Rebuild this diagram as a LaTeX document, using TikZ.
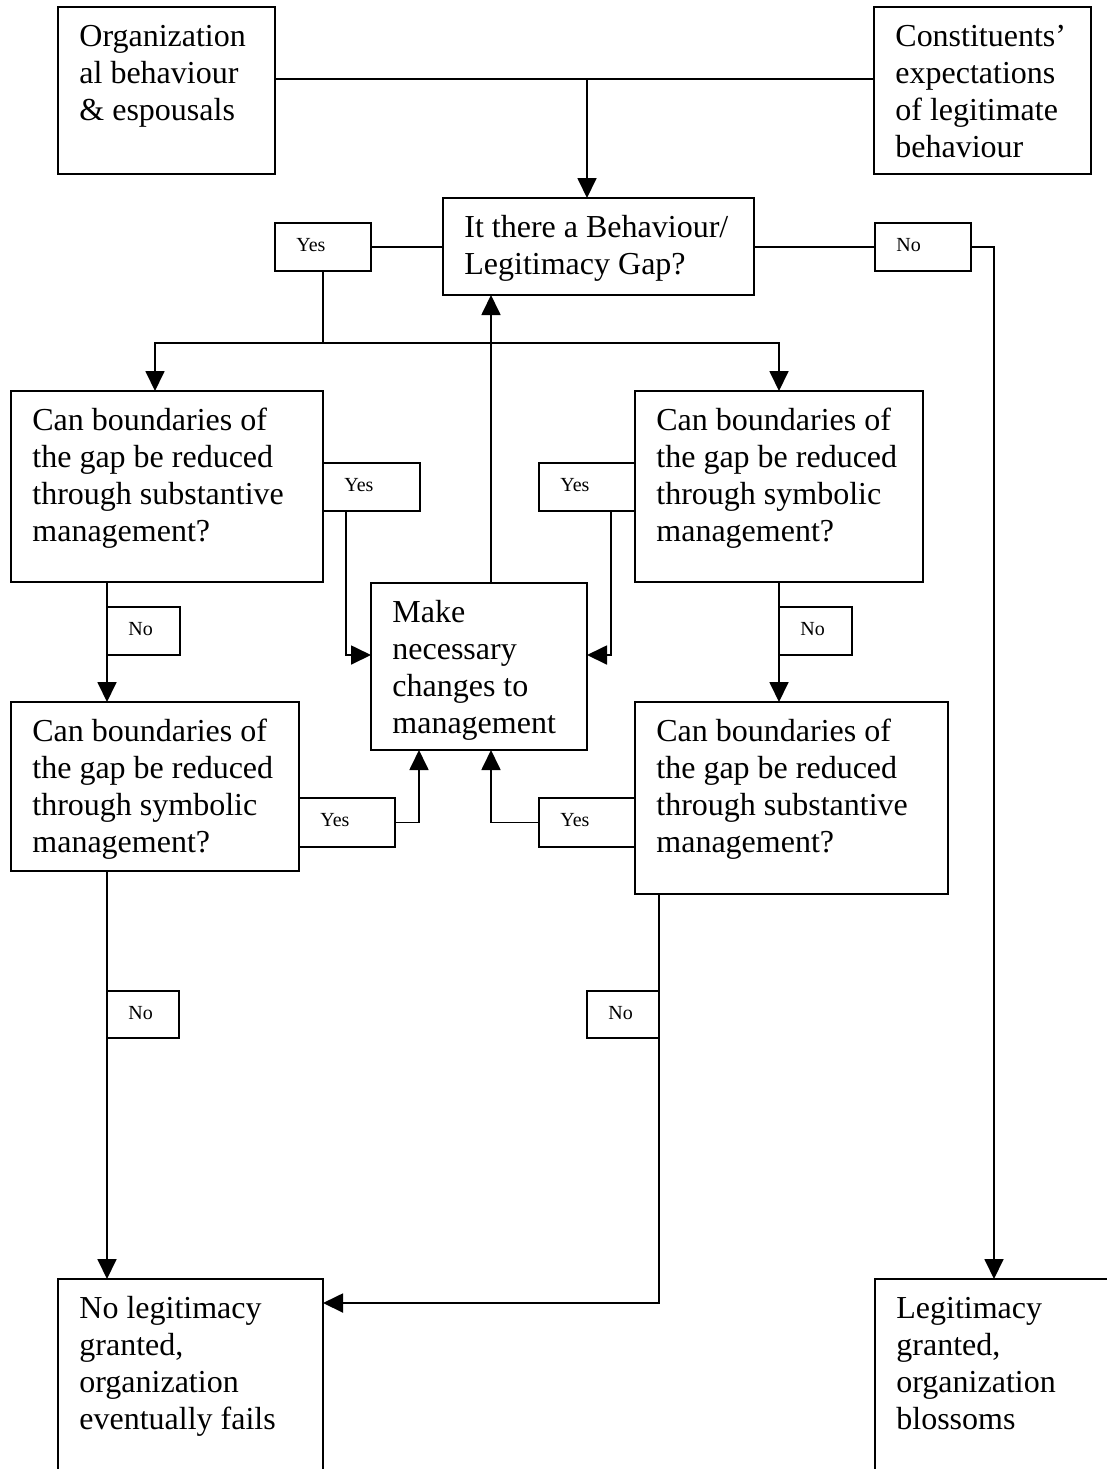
\documentclass[tikz,border=0pt]{standalone}
\usepackage{fontspec}
\setmainfont{Liberation Serif}
\usetikzlibrary{arrows.meta,fit,calc}

\tikzset{
  frame/.style={draw, line width=1pt, inner sep=0pt, outer sep=0pt},
  tag/.style={draw, line width=0.75pt, inner sep=0pt, outer sep=0pt},
  bigtext/.style={font=\fontsize{16}{18.5}\selectfont, align=left, inner sep=0pt, anchor=north west},
  smalltext/.style={font=\fontsize{10}{12}\selectfont, inner sep=0pt, anchor=north west},
  link/.style={line width=0.9pt},
  arr/.style={link, -{Triangle[length=10pt,width=9.5pt]}},
}

\begin{document}
\begin{tikzpicture}[x=0.5pt,y=-0.5pt]
\useasboundingbox (0,0) rectangle (1107,1469);
\fill[white] (0,0) rectangle (1107,1469);
\clip (0,0) rectangle (1107,1469);

% ---- main boxes ----
\node[frame, fit={(58,7) (275,174)}] (A) {};
\node[frame, fit={(874,7) (1091,174)}] (B) {};
\node[frame, fit={(443,198) (754,295)}] (G) {};
\node[frame, fit={(11,391) (323,582)}] (C1) {};
\node[frame, fit={(635,391) (923,582)}] (C2) {};
\node[frame, fit={(371,583) (587,750)}] (M) {};
\node[frame, fit={(11,702) (299,871)}] (C3) {};
\node[frame, fit={(635,702) (948,894)}] (C4) {};
\node[frame, fit={(58,1279) (323,1500)}] (F1) {};
\node[frame, fit={(875,1279) (1130,1500)}] (F2) {};

% ---- box texts ----
\node[bigtext] (At) at ([shift={(10.5pt,-6.55pt)}]A.north west) {\strut Organization\\al behaviour\\\& espousals};
\node[bigtext] (Bt) at ([shift={(10.5pt,-6.55pt)}]B.north west) {\strut Constituents’\\expectations\\of legitimate\\behaviour};
\node[bigtext] (Gt) at ([shift={(10.5pt,-6.55pt)}]G.north west) {\strut It there a Behaviour/\\Legitimacy Gap?};
\node[bigtext] (C1t) at ([shift={(10.5pt,-6.55pt)}]C1.north west) {\strut Can boundaries of\\the gap be reduced\\through substantive\\management?};
\node[bigtext] (C2t) at ([shift={(10.5pt,-6.55pt)}]C2.north west) {\strut Can boundaries of\\the gap be reduced\\through symbolic\\management?};
\node[bigtext] (Mt) at ([shift={(10.5pt,-6.55pt)}]M.north west) {\strut Make\\necessary\\changes to\\management};
\node[bigtext] (C3t) at ([shift={(10.5pt,-6.55pt)}]C3.north west) {\strut Can boundaries of\\the gap be reduced\\through symbolic\\management?};
\node[bigtext] (C4t) at ([shift={(10.5pt,-6.55pt)}]C4.north west) {\strut Can boundaries of\\the gap be reduced\\through substantive\\management?};
\node[bigtext] (F1t) at ([shift={(10.5pt,-6.55pt)}]F1.north west) {\strut No legitimacy\\granted,\\organization\\eventually fails};
\node[bigtext] (F2t) at ([shift={(10.5pt,-6.55pt)}]F2.north west) {\strut Legitimacy\\granted,\\organization\\blossoms};

% ---- yes / no tags ----
\node[tag, fit={(275,223) (371,271)}] (YG) {};
\node[tag, fit={(875,223) (971,271)}] (NG) {};
\node[tag, fit={(323,463) (420,511)}] (YC1) {};
\node[tag, fit={(539,463) (635,511)}] (YC2) {};
\node[tag, fit={(107,607) (180,655)}] (NC1) {};
\node[tag, fit={(779,607) (852,655)}] (NC2) {};
\node[tag, fit={(299,798) (395,847)}] (YC3) {};
\node[tag, fit={(539,798) (635,847)}] (YC4) {};
\node[tag, fit={(107,991) (179,1038)}] (NC3) {};
\node[tag, fit={(587,991) (659,1038)}] (NC4) {};

\foreach \t/\w in {YG/Yes, NG/No, YC1/Yes, YC2/Yes, NC1/No, NC2/No, YC3/Yes, YC4/Yes, NC3/No, NC4/No}
  \node[smalltext] (\t t) at ([shift={(10.5pt,-5.85pt)}]\t.north west) {\strut \w};

% ---- connectors ----
\coordinate (J) at (587,79);
\draw[link] (A.east |- J) -- (B.west |- J);
\draw[arr] (J) -- (J |- G.north);

\draw[link] (YG.east) -- (YG.east -| G.west);
\draw[link] (NG.west -| G.east) -- (NG.west);
\coordinate (R) at (994,247);
\draw[arr] (NG.east) -- (R) -- (R |- F2.north);

\coordinate (S) at (323,343);
\coordinate (SL) at (155,343);
\coordinate (SR) at (779,343);
\draw[link] (YG.south) -- (S);
\draw[arr] (S) -- (SL) -- (SL |- C1.north);
\draw[arr] (S) -- (SR) -- (SR |- C2.north);

\coordinate (colU) at (491,0);
\draw[arr] (M.north -| colU) -- (G.south -| colU);

\coordinate (P1) at (346,655);
\draw[arr] (P1 |- YC1.south) -- (P1) -- (P1 -| M.west);
\coordinate (P2) at (611,655);
\draw[arr] (P2 |- YC2.south) -- (P2) -- (P2 -| M.east);

\coordinate (Q1) at (107,0);
\draw[arr] (C1.south -| Q1) -- (C3.north -| Q1);
\draw[arr] (C3.south -| Q1) -- (F1.north -| Q1);
\coordinate (Q2) at (779,0);
\draw[arr] (C2.south -| Q2) -- (C4.north -| Q2);

\coordinate (P3) at (419,0);
\draw[arr] (YC3.east) -| (M.south -| P3);
\draw[arr] (YC4.west) -| (M.south -| colU);

\coordinate (T) at (659,1303);
\draw[arr] (C4.south -| T) -- (T) -- (T -| F1.east);
\end{tikzpicture}
\end{document}
